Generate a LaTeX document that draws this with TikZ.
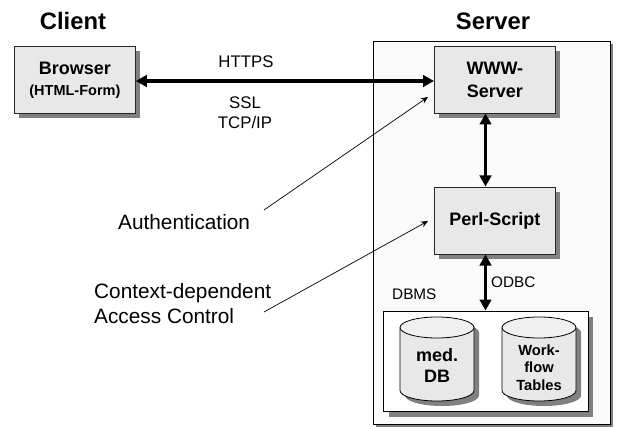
\documentclass[tikz,border=0pt]{standalone}
\usepackage{fontspec}
\setmainfont{Liberation Sans}
\usetikzlibrary{arrows.meta,positioning}
\newcommand{\fsz}[1]{\fontsize{#1pt}{#1pt}\selectfont}
\tikzset{
  x=1pt,y=-1pt,
  lbl/.style={inner sep=0pt,align=center,font=\fsz{16.8}},
  biglbl/.style={inner sep=0pt,align=left,anchor=west,font=\fsz{20.8}},
  head/.style={inner sep=0pt,font=\bfseries\fsz{23.8}},
  proc/.style={draw=black!85,line width=0.8pt,fill=black!9,minimum width=121pt,minimum height=67pt,inner sep=0pt,align=center,font=\bfseries\fsz{18}},
  shade/.style={fill=black!50,draw=none},
  bigarrow/.style={line width=3.5pt,{Triangle[length=11pt,width=11.5pt]}-{Triangle[length=11pt,width=11.5pt]}},
  thin arrow/.style={line width=0.7pt,-{Stealth[length=7pt,width=6pt]}},
}
\newcommand{\cyl}[4]{% x1,x2,top,bottom
  \fill[black!50,shift={(5,5)}] (#1,#3+10.5) arc[x radius={(#2-#1)/2},y radius=10.5,start angle=180,end angle=360] -- (#2,#4-10.5) arc[x radius={(#2-#1)/2},y radius=10.5,start angle=0,end angle=180] -- cycle;
  \draw[line width=0.8pt,fill=black!9] (#1,#3+10.5) -- (#1,#4-10.5) arc[x radius={(#2-#1)/2},y radius=10.5,start angle=180,end angle=0] -- (#2,#3+10.5);
  \draw[line width=0.8pt,fill=black!6] ({(#1+#2)/2},#3+10.5) ellipse[x radius={(#2-#1)/2},y radius=10.5];
}
\begin{document}
\begin{tikzpicture}
\useasboundingbox (0,0) rectangle (617,427);
% server container
\fill[black!50] (376,44) rectangle (613,427);
\draw[line width=0.8pt,fill=black!2] (373,41) rectangle (610,424);
% shadows
\fill[shade] (19,51) rectangle (140,118);
\fill[shade] (439,51) rectangle (560,118);
\fill[shade] (439,192) rectangle (560,259);
\fill[shade] (389,317) rectangle (593,417);
% nodes
\node[head] (client) at (73,21) {Client};
\node[head] (server) at (493,21) {Server};
\node[proc,anchor=north west] (browser) at (14,46) {Browser\\[3pt]{\fsz{14.5}(HTML-Form)}};
\node[proc,anchor=north west] (www) at (434,46) {WWW-\\[5pt]Server};
\node[proc,anchor=north west] (perl) at (434,187) {\raisebox{-1.5pt}{Perl-Script}};
\node[draw,line width=0.8pt,fill=white,minimum width=205pt,minimum height=100pt,inner sep=0pt,anchor=north west] (dbms) at (383,311) {};
\cyl{400}{474}{317}{401}
\cyl{502}{576}{317}{401}
\node[inner sep=0pt,align=center,font=\bfseries\fsz{18}] (meddb) at (437,365.5) {med.\\[3pt]DB};
\node[inner sep=0pt,align=center,font=\bfseries\fsz{14.7}] (work) at (539,367.5) {Work-\\[2.8pt]flow\\[2.8pt]Tables};
% labels
\node[lbl] (https) at (246,62) {HTTPS};
\node[lbl] (ssl) at (245,103) {SSL};
\node[lbl] (tcp) at (245,122) {TCP/IP};
\node[biglbl] (auth) at (118,222) {Authentication};
\node[biglbl] (ctx) at (94,303.5) {Context-dependent\\[3.5pt]Access Control};
\node[lbl,font=\fsz{15.3},anchor=west] (odbc) at (491,282) {ODBC};
\node[lbl,font=\fsz{15.3},anchor=west] (dblabel) at (392,294) {DBMS};
% connectors
\draw[bigarrow] (browser.east |- 0,81) -- (www.west |- 0,81);
\draw[bigarrow] (485.5,113.5) -- (485.5,186.5);
\draw[bigarrow] (485.5,254.5) -- (485.5,310.5);
\coordinate (wtip) at (428,97);
\coordinate (ptip) at (428,221);
\coordinate (astart) at (264,210);
\coordinate (cstart) at (264,312);
\draw[thin arrow] (astart) -- (wtip);
\draw[thin arrow] (cstart) -- (ptip);
\end{tikzpicture}
\end{document}
